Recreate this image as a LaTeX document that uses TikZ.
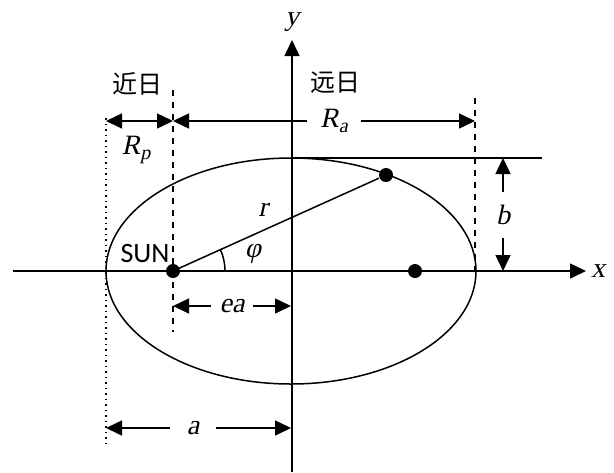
\documentclass[tikz,border=0pt]{standalone}
\usepackage{fontspec}
\setmainfont{Liberation Serif}
\newfontfamily\slantfont{Liberation Serif}[FakeSlant=0.22]
\newfontfamily\cjk{Noto Sans CJK SC}
\newfontfamily\sunfont{Carlito}
\usetikzlibrary{arrows.meta,positioning,calc}
\newcommand{\ivar}[1]{{\slantfont #1}}
\newcommand{\isub}[2]{{\slantfont #1}\raisebox{-0.45ex}{\fontsize{10}{10}\selectfont\slantfont #2}}

\begin{document}
\begin{tikzpicture}[x=0.5pt,y=-0.5pt,line width=0.75pt,>={Triangle[length=8pt,width=7.5pt]},
  font=\fontsize{14}{16}\selectfont,
  lbl/.style={inner sep=1pt},
  cn/.style={font=\fontsize{12.5}{14}\selectfont\cjk},
  dot/.style={circle,fill=black,inner sep=0pt,minimum size=7pt}]
 \useasboundingbox (0,0) rectangle (614,472);
 % axes
 \coordinate (xs) at (13,271);
 \coordinate (xe) at (586,271);
 \coordinate (ys) at (292,472);
 \coordinate (ye) at (292,40);
 \draw[->] (xs)--(xe);
 \draw[->] (ys)--(ye);
 \node[lbl] (xlbl) at (598,271) {\ivar{x}};
 \node[lbl] (ylbl) at (292,22) {\ivar{y}};
 % orbit
 \draw (291,271) ellipse (185 and 113);
 % guide lines
 \coordinate (dtop) at (106,118);
 \coordinate (dbot) at (106,447);
 \coordinate (ltop) at (173,90);
 \coordinate (lbot) at (173,332);
 \coordinate (rtop) at (475,98);
 \coordinate (rbot) at (475,271);
 \coordinate (btop) at (292,158);
 \coordinate (bend) at (542,158);
 \draw[dotted] (dtop)--(dbot);
 \draw[dashed] (ltop)--(lbot);
 \draw[dashed] (rtop)--(rbot);
 \draw (btop)--(bend);
 % bodies
 \node[dot] (sun) at (173,271) {};
 \node[dot] (focus) at (415,271) {};
 \node[dot] (planet) at (386,175) {};
 \draw (sun.center)--(planet);
 \draw ($(sun.center)+(52,0)$) arc[start angle=0,end angle=-24.3,radius=52];
 \node[lbl] (sunlbl) at (145,254) {\sunfont SUN};
 \node[lbl] (philbl) at (253,254) {\ivar{φ}};
 \node[lbl] (rlbl) at (263,210) {\ivar{r}};
 % dimensions
 \node[cn] (peri) at (137,84) {近日};
 \node[cn] (aph) at (335,83) {远日};
 \coordinate (rpl) at (106,121);
 \coordinate (rpr) at (173,121);
 \coordinate (rar) at (475,121);
 \draw[<->] (rpl)--(rpr);
 \node[lbl] (rplbl) at (136,150) {\isub{R}{p}};
 \node[lbl,inner xsep=6pt] (ralbl) at (334,121) {\isub{R}{a}};
 \draw[->] (ralbl)--(rpr);
 \draw[->] (ralbl)--(rar);
 \coordinate (bt) at (503,158);
 \coordinate (bb) at (503,271);
 \node[lbl,inner ysep=6pt] (blbl) at (503,215) {\ivar{b}};
 \draw[->] (blbl)--(bt);
 \draw[->] (blbl)--(bb);
 \coordinate (eal) at (173,306);
 \coordinate (ear) at (291,306);
 \node[lbl,inner xsep=4pt] (ealbl) at (232,306) {\ivar{ea}};
 \draw[->] (ealbl)--(eal);
 \draw[->] (ealbl)--(ear);
 \coordinate (al) at (106,428);
 \coordinate (ar) at (291,428);
 \node[lbl,inner xsep=8pt] (albl) at (193,428) {\ivar{a}};
 \draw[->] (albl)--(al);
 \draw[->] (albl)--(ar);
\end{tikzpicture}
\end{document}
